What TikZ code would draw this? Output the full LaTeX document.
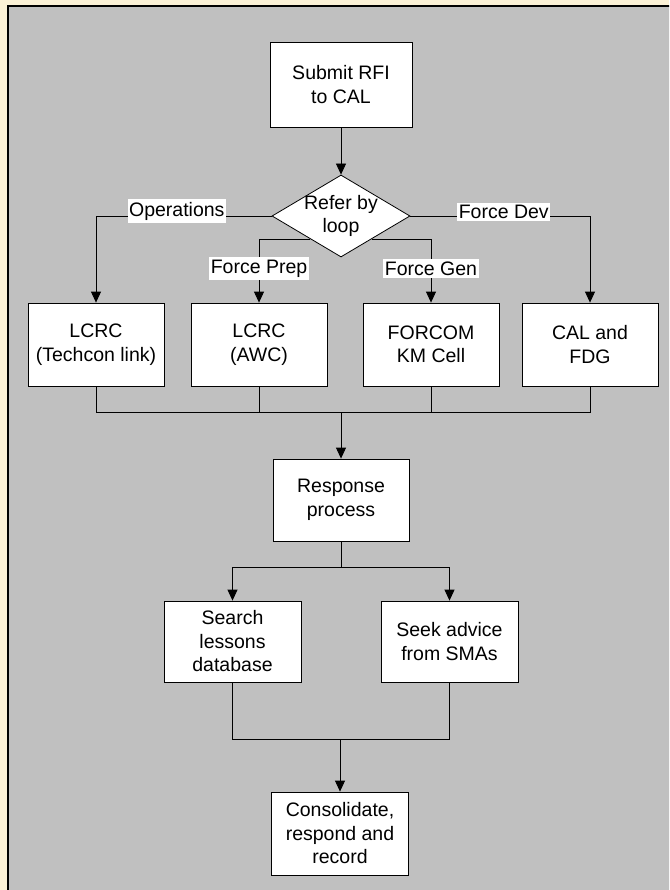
\documentclass[tikz,border=0pt]{standalone}
\usepackage{fontspec}
\setmainfont{Liberation Sans}
\usetikzlibrary{shapes.geometric,arrows.meta,calc}
\definecolor{beige}{RGB}{251,241,214}
\definecolor{panelgray}{RGB}{192,192,192}
\begin{document}
\begin{tikzpicture}[x=1pt,y=-1pt,
  txt/.style={font=\fontsize{19.5}{23.5}\selectfont, align=center},
  box/.style={txt, draw=black, line width=0.8pt, fill=white, inner sep=0pt},
  lbl/.style={fill=white, font=\fontsize{19.5}{23.5}\selectfont, inner xsep=1.5pt, inner ysep=2.5pt},
  conn/.style={line width=0.8pt, draw=black},
  arr/.style={conn, -{Triangle[length=11pt,width=10pt]}}]
\useasboundingbox (0,0) rectangle (669,890);
\clip (0,0) rectangle (669,890);
\fill[beige] (0,0) rectangle (669,890);
\draw[line width=2pt, fill=panelgray] (8,6) rectangle (690,910);

% nodes
\node[box, minimum width=142pt, minimum height=85pt] (submit) at (341,84.5) {Submit RFI\\to CAL};
\node[draw=black, line width=0.8pt, fill=white, diamond, minimum width=138pt, minimum height=82pt, inner sep=0pt] (refer) at (341,216) {};
\node[txt] (refertext) at (refer.center) {Refer by\\loop};

\node[box, minimum width=136pt, minimum height=83pt] (lcrc1) at (96,344.5) {LCRC\\(Techcon link)};
\node[box, minimum width=136pt, minimum height=83pt] (lcrc2) at (259,344.5) {LCRC\\(AWC)};
\node[box, minimum width=136pt, minimum height=83pt] (forcom) at (431,344.5) {FORCOM\\KM Cell};
\node[box, minimum width=136pt, minimum height=83pt] (cal) at (590,344.5) {CAL and\\FDG};

\node[box, minimum width=136pt, minimum height=82pt] (resp) at (341,500) {Response\\process};
\node[box, minimum width=137pt, minimum height=81pt] (search) at (232.5,641.5) {Search\\lessons\\database};
\node[box, minimum width=137pt, minimum height=81pt] (seek) at (449.5,641.5) {Seek advice\\from SMAs};
\node[box, minimum width=137pt, minimum height=83pt] (consol) at (340,833.5) {Consolidate,\\respond and\\record};

% connectors
\draw[arr] (submit.south) -- (refer.north);
\draw[arr] (refer.west) -| node[lbl, pos=0.27, yshift=5pt] {Operations} (lcrc1.north);
\draw[arr] (refer.east) -| node[lbl, pos=0.26, yshift=4pt] {Force Dev} (cal.north);
\draw[arr] ($(refer.west)!0.56!(refer.south)$) -| node[lbl, pos=0.73] {Force Prep} (lcrc2.north);
\draw[arr] ($(refer.east)!0.56!(refer.south)$) -| node[lbl, pos=0.73] {Force Gen} (forcom.north);

\coordinate (j1) at (341,412);
\draw[conn] (lcrc1.south) |- (j1);
\draw[conn] (cal.south) |- (j1);
\draw[conn] (lcrc2.south) -- (lcrc2.south |- j1);
\draw[conn] (forcom.south) -- (forcom.south |- j1);
\draw[arr] (j1) -- (resp.north);

\coordinate (j2) at (341,567);
\draw[conn] (resp.south) -- (j2);
\draw[arr] (j2) -| (search.north);
\draw[arr] (j2) -| (seek.north);

\coordinate (j3) at (340,739);
\draw[conn] (search.south) |- (j3);
\draw[conn] (seek.south) |- (j3);
\draw[arr] (j3) -- (consol.north);
\end{tikzpicture}
\end{document}
